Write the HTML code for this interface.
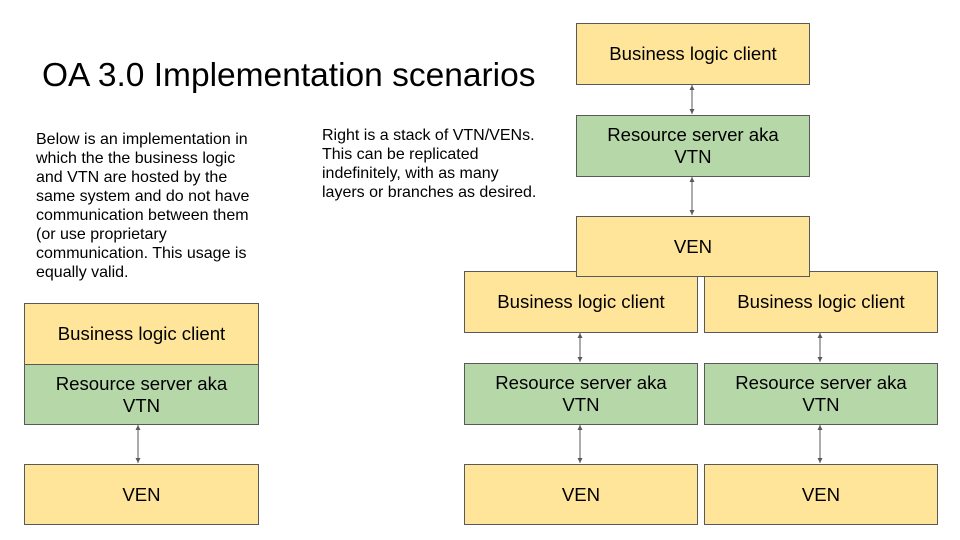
<!DOCTYPE html>
<html><head><style>
body{margin:0;width:960px;height:540px;background:#fff;position:relative;overflow:hidden;font-family:"Liberation Sans",Arial,sans-serif;color:#000}
.b{position:absolute;box-sizing:border-box;border:1px solid #595959;display:flex;align-items:center;justify-content:center;text-align:center;font-size:18.6px;line-height:22px}
.y{background:#ffe599}.g{background:#b6d7a8}
.t{position:absolute;font-size:16px;line-height:19px}
</style></head><body>
<div style="position:absolute;left:42px;top:56px;font-size:33.5px;line-height:40px">OA 3.0 Implementation scenarios</div>
<div class="t" style="left:36px;top:130px">Below is an implementation in<br>which the the business logic<br>and VTN are hosted by the<br>same system and do not have<br>communication between them<br>(or use proprietary<br>communication. This usage is<br>equally valid.</div>
<div class="t" style="left:322px;top:126px">Right is a stack of VTN/VENs.<br>This can be replicated<br>indefinitely, with as many<br>layers or branches as desired.</div>
<svg style="position:absolute;left:0;top:0" width="960" height="540">
<defs><marker id="a" markerWidth="6" markerHeight="6" refX="5" refY="3" orient="auto-start-reverse" markerUnits="userSpaceOnUse"><path d="M0,0.5L5,3L0,5.5z" fill="#595959"/></marker></defs>
<g stroke="#595959" stroke-width="1" marker-start="url(#a)" marker-end="url(#a)">
<line x1="692" y1="85" x2="692" y2="114"/><line x1="692" y1="177" x2="692" y2="215"/>
<line x1="580" y1="333" x2="580" y2="362"/><line x1="580" y1="425" x2="580" y2="463"/>
<line x1="820" y1="333" x2="820" y2="362"/><line x1="820" y1="425" x2="820" y2="463"/>
<line x1="138" y1="425" x2="138" y2="463"/>
</g></svg>
<div class="b y" style="left:576px;top:23px;width:234px;height:62px">Business logic client</div>
<div class="b g" style="left:576px;top:115px;width:234px;height:62px">Resource server aka<br>VTN</div>
<div class="b y" style="left:464px;top:271px;width:234px;height:62px">Business logic client</div>
<div class="b g" style="left:464px;top:363px;width:234px;height:62px">Resource server aka<br>VTN</div>
<div class="b y" style="left:464px;top:464px;width:234px;height:61px">VEN</div>
<div class="b y" style="left:704px;top:271px;width:234px;height:62px">Business logic client</div>
<div class="b g" style="left:704px;top:363px;width:234px;height:62px">Resource server aka<br>VTN</div>
<div class="b y" style="left:704px;top:464px;width:234px;height:61px">VEN</div>
<div class="b y" style="left:576px;top:216px;width:234px;height:61px">VEN</div>
<div class="b y" style="left:24px;top:303px;width:235px;height:62px">Business logic client</div>
<div class="b g" style="left:24px;top:364px;width:235px;height:61px">Resource server aka<br>VTN</div>
<div class="b y" style="left:24px;top:464px;width:235px;height:61px">VEN</div>
</body></html>
